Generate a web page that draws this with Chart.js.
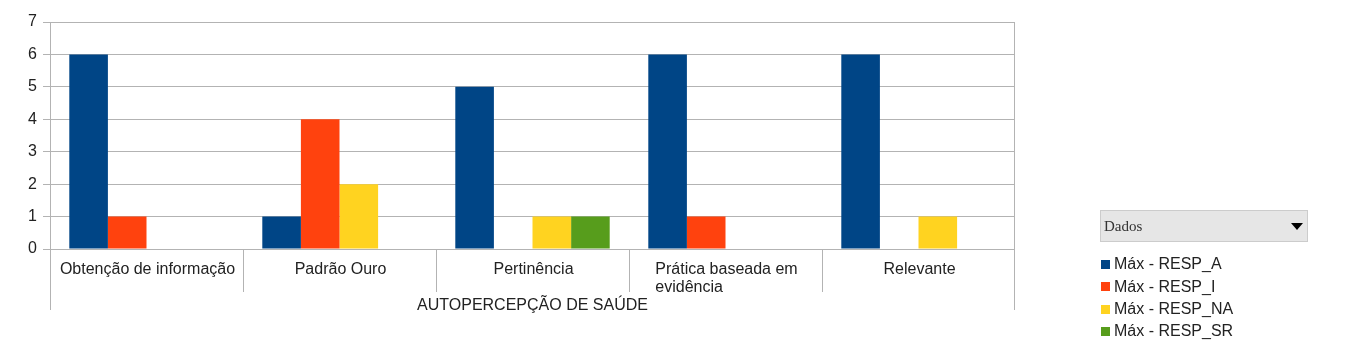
<!DOCTYPE html>
<html><head><meta charset="utf-8">
<script src="https://cdn.jsdelivr.net/npm/chart.js@4.4.1/dist/chart.umd.min.js"></script>
<style>html,body{margin:0;padding:0;background:#fff;}#wrap{width:1348px;height:361px;position:relative;}</style>
</head><body><div id="wrap"><canvas id="c" width="1348" height="361"></canvas></div>
<script>
const categories = ["Obtenção de informação", "Padrão Ouro", "Pertinência", "Prática baseada em evidência", "Relevante"];
const seriesNames = ["Máx - RESP_A", "Máx - RESP_I", "Máx - RESP_NA", "Máx - RESP_SR"];
const respA = [6, 1, 5, 6, 6];
const respI = [1, 4, 0, 1, 0];
const respNA = [0, 2, 1, 0, 1];
const respSR = [0, 0, 1, 0, 0];
const yTickValues = [0, 1, 2, 3, 4, 5, 6, 7];
const axisTitle = "AUTOPERCEPÇÃO DE SAÚDE";
const legendTitle = "Dados";
const colors = ["#004586", "#ff420e", "#ffd320", "#579d1c"];

const FONT = "Liberation Sans, Arial, sans-serif";
const GRID = "#b3b3b3";
const TXT = "#222";

function wrapText(ctx, text, maxW) {
  const words = text.split(" ");
  const lines = [];
  let cur = "";
  for (const w of words) {
    const t = cur ? cur + " " + w : w;
    if (ctx.measureText(t).width > maxW && cur) { lines.push(cur); cur = w; }
    else cur = t;
  }
  if (cur) lines.push(cur);
  return lines;
}

const decor = {
  id: "decor",
  afterDraw(chart) {
    const ctx = chart.ctx;
    const a = chart.chartArea;
    const xs = chart.scales.x;
    const n = categories.length;
    const cw = (a.right - a.left) / n;
    ctx.save();
    ctx.strokeStyle = GRID;
    ctx.lineWidth = 1;
    ctx.beginPath();
    const L = Math.round(a.left) + 0.5, R = Math.round(a.right) - 0.5;
    ctx.moveTo(L, a.bottom); ctx.lineTo(L, a.bottom + 61);
    ctx.moveTo(R, a.top); ctx.lineTo(R, a.bottom + 61);
    for (let i = 1; i < n; i++) {
      const px = Math.round(xs.getPixelForValue(i) - cw / 2) + 0.5;
      ctx.moveTo(px, a.bottom); ctx.lineTo(px, a.bottom + 43);
    }
    ctx.stroke();

    ctx.font = "16px " + FONT;
    ctx.fillStyle = TXT;
    ctx.textBaseline = "middle";
    categories.forEach((c, i) => {
      const cx = xs.getPixelForValue(i);
      const lines = wrapText(ctx, c, cw - 12);
      const bw = Math.max(...lines.map(l => ctx.measureText(l).width));
      ctx.textAlign = "left";
      lines.forEach((l, j) => ctx.fillText(l, cx - bw / 2 + 1, a.bottom + 21 + j * 18));
    });
    ctx.textAlign = "center";
    ctx.fillText(axisTitle, (a.left + a.right) / 2, a.bottom + 57);

    ctx.fillStyle = "#e6e6e6";
    ctx.fillRect(1100, 210, 208, 32);
    ctx.strokeStyle = "#cccccc";
    ctx.strokeRect(1100.5, 210.5, 207, 31);
    ctx.fillStyle = "#333";
    ctx.font = "15px Liberation Serif, serif";
    ctx.textAlign = "left";
    ctx.fillText(legendTitle, 1104, 227);
    ctx.fillStyle = "#000";
    ctx.beginPath();
    ctx.moveTo(1291, 223); ctx.lineTo(1303, 223); ctx.lineTo(1297, 230); ctx.closePath();
    ctx.fill();
    ctx.font = "16px " + FONT;
    seriesNames.forEach((s, i) => {
      const y = 264 + i * 22.3;
      ctx.fillStyle = colors[i];
      ctx.fillRect(1101, Math.round(y - 4), 9, 9);
      ctx.fillStyle = TXT;
      ctx.fillText(s, 1114, y + 1);
    });
    ctx.restore();
  }
};

const seriesData = [respA, respI, respNA, respSR];
new Chart(document.getElementById("c"), {
  type: "bar",
  data: {
    labels: categories,
    datasets: seriesNames.map((s, i) => ({
      label: s, data: seriesData[i], backgroundColor: colors[i], borderWidth: 0,
      categoryPercentage: 0.8, barPercentage: 1.0
    }))
  },
  options: {
    responsive: false, animation: false, devicePixelRatio: 1,
    layout: { padding: { top: 22, right: 333, left: 0, bottom: 0 } },
    plugins: { legend: { display: false }, tooltip: { enabled: false } },
    scales: {
      x: {
        grid: { display: false }, border: { display: false },
        ticks: { display: false },
        afterFit: s => { s.height = 112; }
      },
      y: {
        min: 0, max: 7,
        afterBuildTicks: s => { s.ticks = yTickValues.map(v => ({ value: v })); },
        ticks: { font: { size: 16, family: FONT }, color: TXT, padding: 6 },
        grid: { color: GRID, tickLength: 7 },
        border: { color: GRID },
        afterFit: s => { s.width = 50; }
      }
    }
  },
  plugins: [decor]
});
</script></body></html>
